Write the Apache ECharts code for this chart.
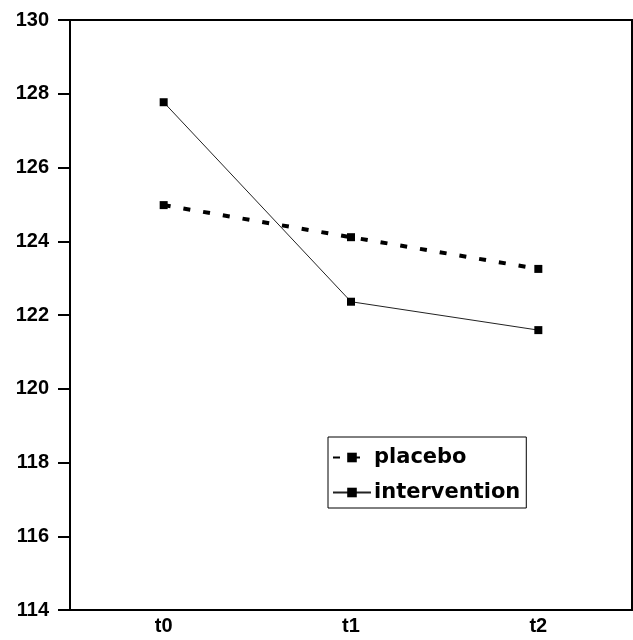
<!DOCTYPE html>
<html><head><meta charset="utf-8">
<script src="https://cdn.jsdelivr.net/npm/echarts@6/dist/echarts.min.js"></script>
<style>html,body{margin:0;padding:0;background:#fff}#c{width:633px;height:640px}</style>
</head><body><div id="c"></div>
<script>
const categories = ['t0', 't1', 't2'];
const placebo = [124.98, 124.11, 123.25];
const intervention = [127.77, 122.36, 121.59];
const yMin = 114, yMax = 130, yStep = 2;

const chart = echarts.init(document.getElementById('c'), null, {renderer: 'canvas'});
chart.setOption({
  animation: false,
  backgroundColor: '#fff',
  grid: {left: 70, right: 1, top: 20, bottom: 30, show: true, borderColor: '#000', borderWidth: 2, backgroundColor: 'transparent'},
  legend: {
    left: 328, top: 437, orient: 'vertical',
    backgroundColor: '#fff', borderColor: '#000', borderWidth: 1,
    padding: [10, 6, 5, 4], itemGap: 14, itemWidth: 38, itemHeight: 12,
    textStyle: {fontFamily: 'DejaVu Sans', fontWeight: 'bold', fontSize: 21, color: '#000', padding: [0, 0, 0, -2]},
    data: ['placebo', 'intervention']
  },
  xAxis: {
    type: 'category', data: categories, boundaryGap: true,
    axisLine: {lineStyle: {color: '#000', width: 2}},
    axisTick: {show: false},
    axisLabel: {color: '#000', fontFamily: 'Liberation Sans', fontWeight: 'bold', fontSize: 20, margin: 6},
    splitLine: {show: false}
  },
  yAxis: {
    type: 'value', min: yMin, max: yMax, interval: yStep,
    axisLine: {show: true, lineStyle: {color: '#000', width: 1}},
    axisTick: {show: true, length: 12, lineStyle: {color: '#000', width: 2}},
    axisLabel: {color: '#000', fontFamily: 'Liberation Sans', fontWeight: 'bold', fontSize: 20, margin: 21},
    splitLine: {show: false}
  },
  series: [
    {
      name: 'placebo', type: 'line', data: placebo,
      symbol: 'rect', symbolSize: 8,
      itemStyle: {color: '#000'},
      lineStyle: {color: '#000', width: 4, type: [7, 13]}
    },
    {
      name: 'intervention', type: 'line', data: intervention,
      symbol: 'rect', symbolSize: 8,
      itemStyle: {color: '#000'},
      lineStyle: {color: '#222', width: 1}
    }
  ]
});
</script></body></html>
